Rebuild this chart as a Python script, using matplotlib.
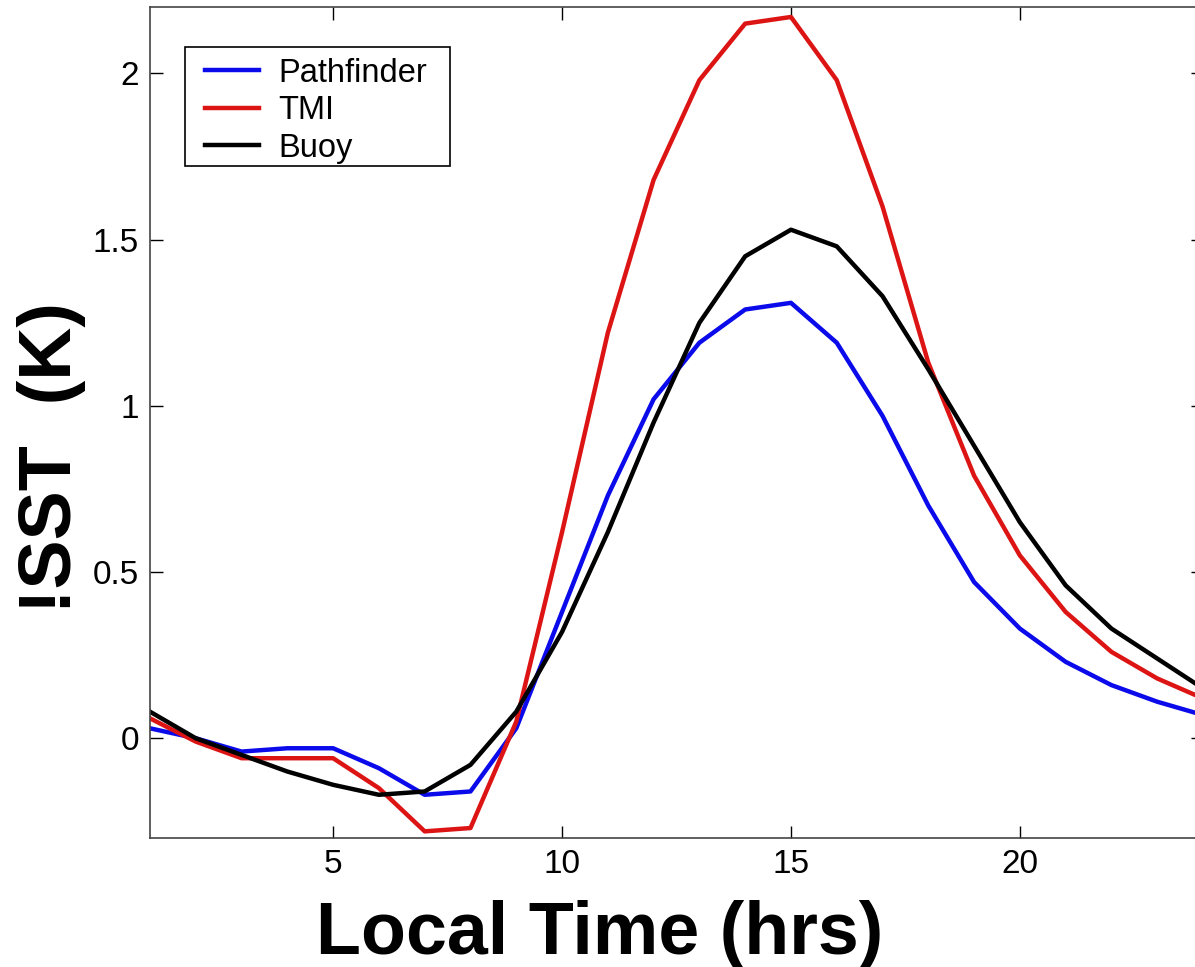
import matplotlib.pyplot as plt
from matplotlib.patches import Rectangle

hours = list(range(1, 25))

pathfinder = [0.03, 0.00, -0.04, -0.03, -0.03, -0.09, -0.17, -0.16, 0.03, 0.38,
              0.73, 1.02, 1.19, 1.29, 1.31, 1.19, 0.97, 0.70, 0.47, 0.33,
              0.23, 0.16, 0.11, 0.07]
tmi = [0.06, -0.01, -0.06, -0.06, -0.06, -0.15, -0.28, -0.27, 0.05, 0.62,
       1.22, 1.68, 1.98, 2.15, 2.17, 1.98, 1.60, 1.13, 0.79, 0.55,
       0.38, 0.26, 0.18, 0.12]
buoy = [0.08, 0.00, -0.05, -0.10, -0.14, -0.17, -0.16, -0.08, 0.08, 0.32,
        0.62, 0.95, 1.25, 1.45, 1.53, 1.48, 1.33, 1.11, 0.88, 0.65,
        0.46, 0.33, 0.24, 0.15]

plt.rcParams['font.family'] = ['Liberation Sans', 'DejaVu Sans']

fig = plt.figure(figsize=(11.95, 9.67), dpi=100)
ax = fig.add_axes([150 / 1195, 1 - 838 / 967, (1203 - 150) / 1195, (838 - 7) / 967])

ax.plot(hours, pathfinder, color='#0a0aeb', lw=3.2, label='Pathfinder')
ax.plot(hours, tmi, color='#dd1414', lw=3.2, label='TMI')
ax.plot(hours, buoy, color='black', lw=3.2, label='Buoy')

ax.set_xlim(1, 24)
ax.set_ylim(-0.3, 2.2)
ax.set_xticks([5, 10, 15, 20])
ax.set_yticks([0, 0.5, 1, 1.5, 2])
ax.set_yticklabels(['0', '0.5', '1', '1.5', '2'])
ax.tick_params(direction='in', length=9, width=1, labelsize=24, top=True, right=True, pad=8)
for s in ax.spines.values():
    s.set_color('#444444')
    s.set_linewidth(1.2)

ax.set_xlabel('Local Time (hrs)', fontsize=53, fontweight='bold')
ax.xaxis.set_label_coords((600 - 150) / (1203 - 150), -0.075)
ax.xaxis.label.set_va('top')
ax.set_ylabel('!SST  (K)', fontsize=53, fontweight='bold')
ax.yaxis.set_label_coords(-0.061, (838 - 458) / (838 - 7))

# legend without its own frame, box drawn separately (matlab style padding)
leg = ax.legend(loc='upper left', bbox_to_anchor=(0.052, 0.939), fontsize=23.5,
                frameon=False, handlelength=1.65, handletextpad=0.6,
                borderpad=0, labelspacing=0.2, borderaxespad=0)
ax.add_patch(Rectangle((0.0332, 0.8087), 0.2517, 0.1432, transform=ax.transAxes,
                       fill=False, edgecolor='black', lw=1.2, zorder=5))

fig.savefig('out.png', dpi=100)
